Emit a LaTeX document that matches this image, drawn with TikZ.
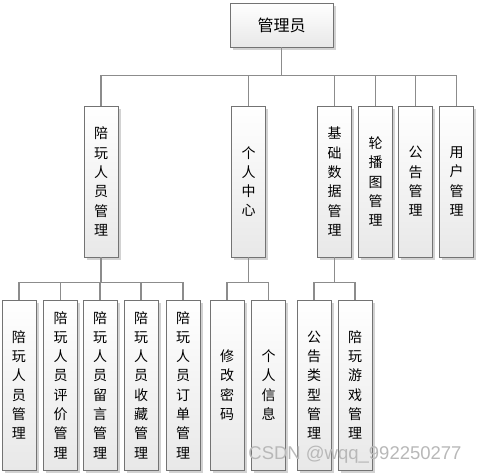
\documentclass[tikz,border=0pt]{standalone}
\usepackage{fontspec}
\newfontfamily\cjk{Noto Sans CJK SC}
\newfontfamily\wmfont{Liberation Sans}
\usetikzlibrary{shadows}
\tikzset{
  box/.style={draw=black!55, line width=0.9pt, top color=white, bottom color=black!9,
    drop shadow={shadow xshift=2.5pt, shadow yshift=-2.5pt, fill=black!25, opacity=0.7},
    inner sep=0pt, align=center, font=\cjk\fontsize{14}{19.3}\selectfont},
  rootbox/.style={box, minimum width=103pt, minimum height=44pt, font=\cjk\fontsize{16}{18}\selectfont},
  midbox/.style={box, minimum width=34pt, minimum height=151pt},
  leafbox/.style={box, minimum width=34pt, minimum height=170pt},
  link/.style={draw=black!45, line width=1.6pt},
  wm/.style={text=black!28, font=\wmfont\fontsize{18.5}{20}\selectfont, inner sep=0pt}
}
\begin{document}
\begin{tikzpicture}[x=1pt,y=-1pt]
\useasboundingbox (0,0) rectangle (477,474);
% root
\node[rootbox] (root) at (281.5,25) {管理员};
% level 2
\node[midbox] (a) at (101,181.5) {陪\\玩\\人\\员\\管\\理};
\node[midbox] (b) at (248.5,181.5) {个\\人\\中\\心};
\node[midbox] (c) at (334.5,181.5) {基\\础\\数\\据\\管\\理};
\node[midbox] (d) at (375.5,181.5) {轮\\播\\图\\管\\理};
\node[midbox] (e) at (415.5,181.5) {公\\告\\管\\理};
\node[midbox] (f) at (456.5,181.5) {用\\户\\管\\理};
% level 3
\node[leafbox] (a1) at (19,385) {陪\\玩\\人\\员\\管\\理};
\node[leafbox] (a2) at (60.5,385) {陪\\玩\\人\\员\\评\\价\\管\\理};
\node[leafbox] (a3) at (100,385) {陪\\玩\\人\\员\\留\\言\\管\\理};
\node[leafbox] (a4) at (141,385) {陪\\玩\\人\\员\\收\\藏\\管\\理};
\node[leafbox] (a5) at (183,385) {陪\\玩\\人\\员\\订\\单\\管\\理};
\node[leafbox] (b1) at (227,385) {修\\改\\密\\码};
\node[leafbox] (b2) at (268.5,385) {个\\人\\信\\息};
\node[leafbox] (c1) at (314,385) {公\\告\\类\\型\\管\\理};
\node[leafbox] (c2) at (355,385) {陪\\玩\\游\\戏\\管\\理};
% connectors
\foreach \ch in {a,b,c,d,e,f}
  \draw[link] (root.south) -- ++(0,28) -| (\ch.north);
\foreach \ch in {a1,a2,a3,a4,a5}
  \draw[link] (a.south) -- ++(0,25) -| (\ch.north);
\foreach \ch in {b1,b2}
  \draw[link] (b.south) -- ++(0,25) -| (\ch.north);
\foreach \ch in {c1,c2}
  \draw[link] (c.south) -- ++(0,25) -| (\ch.north);
% watermark
\node[wm] (wmk) at (355,455) {CSDN @wqq\_992250277};
\end{tikzpicture}
\end{document}
